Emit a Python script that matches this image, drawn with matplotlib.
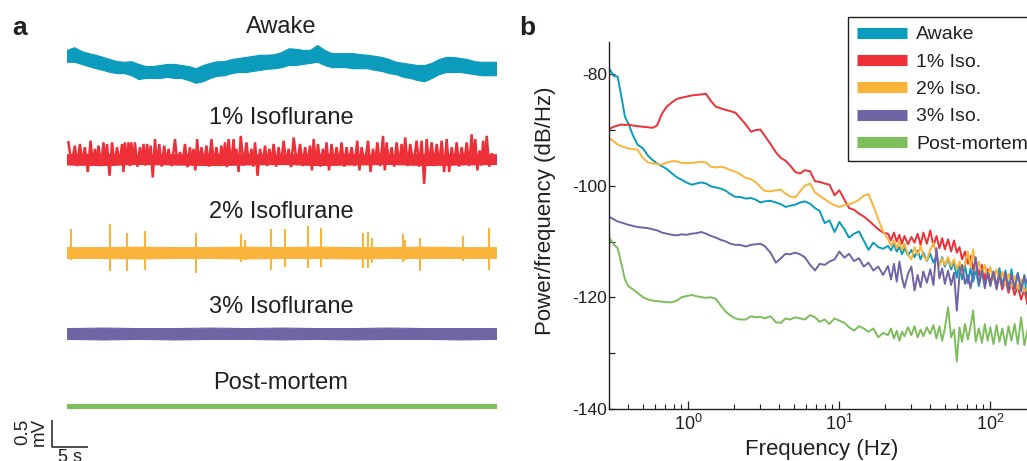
import numpy as np
import matplotlib
matplotlib.use('Agg')
import matplotlib.pyplot as plt
from matplotlib.lines import Line2D

plt.rcParams['font.family'] = ['Liberation Sans', 'DejaVu Sans']
plt.rcParams['mathtext.fontset'] = 'custom'
plt.rcParams['mathtext.rm'] = 'Liberation Sans'
plt.rcParams['mathtext.it'] = 'Liberation Sans:italic'

# ---------------- colours / labels ----------------
C_AWAKE, C_ISO1, C_ISO2, C_ISO3, C_POST = '#0a9bbd', '#ed2f37', '#fab43b', '#7064a4', '#7dbd5c'
TXT = '#231f20'
trace_titles = ['Awake', '1% Isoflurane', '2% Isoflurane', '3% Isoflurane', 'Post-mortem']
legend_labels = ['Awake', '1% Iso.', '2% Iso.', '3% Iso.', 'Post-mortem']

# ---------------- panel a data (mV, relative to each trace's baseline) ----------------
awake_t = np.arange(0, 61)  # s
awake_upper = [0.28, 0.33, 0.26, 0.22, 0.19, 0.15, 0.11, 0.07, 0.06, 0.07,
               0.02, -0.02, -0.02, 0.00, 0.02, 0.02, 0.00, -0.02, -0.06, 0.00,
               0.04, 0.07, 0.07, 0.11, 0.13, 0.15, 0.17, 0.19, 0.19, 0.20,
               0.24, 0.31, 0.30, 0.28, 0.28, 0.37, 0.28, 0.22, 0.22, 0.22,
               0.22, 0.20, 0.19, 0.17, 0.15, 0.11, 0.06, 0.04, 0.02, 0.00,
               0.00, 0.04, 0.11, 0.15, 0.15, 0.13, 0.11, 0.07, 0.06, 0.06, 0.06]
awake_lower = [0.06, 0.06, 0.02, -0.02, -0.06, -0.09, -0.13, -0.15, -0.15, -0.19,
               -0.26, -0.24, -0.24, -0.24, -0.22, -0.24, -0.24, -0.28, -0.33, -0.30,
               -0.24, -0.20, -0.19, -0.15, -0.13, -0.13, -0.11, -0.09, -0.07, -0.06,
               -0.04, 0.00, 0.00, 0.02, 0.04, 0.06, 0.00, -0.04, -0.04, -0.04,
               -0.06, -0.06, -0.06, -0.09, -0.11, -0.15, -0.17, -0.22, -0.24, -0.28,
               -0.30, -0.24, -0.17, -0.13, -0.13, -0.13, -0.15, -0.17, -0.19, -0.19, -0.19]

band_t = np.arange(0, 61, 5)  # s
iso1_upper = [0.07, 0.08, 0.06, 0.07, 0.08, 0.07, 0.06, 0.08, 0.07, 0.06, 0.08, 0.07, 0.07]
iso1_lower = [-0.12, -0.13, -0.11, -0.12, -0.13, -0.12, -0.11, -0.13, -0.12, -0.11, -0.13, -0.12, -0.11]
iso1_peak_t = [0.2, 1.1, 1.8, 2.5, 3.3, 3.9, 4.4, 5.1, 5.6, 6.3, 7.0, 7.7, 8.1, 8.6, 9.0, 9.5,
               10.2, 10.7, 11.2, 11.7, 12.3, 12.9, 13.6, 14.2,
               15.1, 15.8, 16.5, 17.2, 17.7, 18.2, 18.8, 19.5,
               20.2, 20.9, 21.6, 22.1, 22.6, 23.3, 23.7, 24.3,
               25.1, 25.8, 26.3, 27.0, 27.7, 28.3, 28.9, 29.6,
               30.3, 31.0, 31.7, 32.6, 33.3, 34.0, 34.5, 35.1,
               35.8, 36.3, 37.0, 37.7, 38.4, 39.1, 39.8, 40.6,
               41.2, 42.1, 42.8, 43.4, 44.2, 44.7, 45.4, 46.1,
               46.8, 47.3, 48.0, 48.9, 49.6, 50.3, 51.0, 51.7,
               52.4, 53.1, 53.8, 54.5, 55.2, 55.9, 56.6, 57.1,
               57.7, 58.2, 58.7, 59.4]
iso1_peak_v = [0.29, 0.23, 0.26, 0.20, 0.32, 0.17, 0.23, 0.29, 0.26, 0.29, 0.20, 0.26, 0.29, 0.29, 0.29, 0.29,
               0.20, 0.26, 0.26, 0.23, 0.35, 0.26, 0.23, 0.17,
               0.35, 0.11, 0.26, 0.20, 0.17, 0.35, 0.20, 0.23,
               0.35, 0.20, 0.23, 0.29, 0.35, 0.35, 0.17, 0.41,
               0.29, 0.17, 0.29, 0.17, 0.23, 0.17, 0.26, 0.20,
               0.32, 0.17, 0.38, 0.26, 0.20, 0.23, 0.35, 0.26,
               0.17, 0.29, 0.26, 0.20, 0.29, 0.20, 0.20, 0.32,
               0.20, 0.32, 0.17, 0.29, 0.41, 0.29, 0.20, 0.29,
               0.26, 0.38, 0.26, 0.32, 0.32, 0.35, 0.29, 0.26,
               0.32, 0.35, 0.20, 0.29, 0.20, 0.29, 0.44, 0.35,
               0.14, 0.32, 0.41, 0.07]
iso1_trough_t = [0.65, 1.45, 2.15, 2.9, 3.6, 4.15, 4.75, 5.35, 5.95, 6.65,
                 7.35, 7.9, 8.35, 8.8, 9.25, 9.85, 10.45, 10.95, 11.45, 12.0,
                 12.6, 13.25, 13.9, 14.65, 15.45, 16.15, 16.85, 17.45, 17.95, 18.5,
                 19.15, 19.85, 20.55, 21.25, 21.85, 22.35, 22.95, 23.5, 24.0, 24.7,
                 25.45, 26.05, 26.65, 27.35, 28.0, 28.6, 29.25, 29.95, 30.65, 31.35,
                 32.15, 32.95, 33.65, 34.25, 34.8, 35.45, 36.05, 36.65, 37.35, 38.05,
                 38.75, 39.45, 40.2, 40.9, 41.65, 42.45, 43.1, 43.8, 44.45, 45.05,
                 45.75, 46.45, 47.05, 47.65, 48.45, 49.25, 49.95, 50.65, 51.35, 52.05,
                 52.75, 53.45, 54.15, 54.85, 55.55, 56.25, 56.85, 57.4, 57.95, 58.45, 59.05]
iso1_trough_v = [-0.12, -0.15, -0.10, -0.26, -0.13, -0.09, -0.15, -0.12, -0.33, -0.14,
                 -0.11, -0.26, -0.12, -0.15, -0.10, -0.16, -0.12, -0.14, -0.09, -0.36,
                 -0.13, -0.16, -0.11, -0.15, -0.12, -0.10, -0.17, -0.12, -0.23, -0.14,
                 -0.11, -0.16, -0.12, -0.15, -0.10, -0.17, -0.13, -0.11, -0.26, -0.14,
                 -0.12, -0.16, -0.33, -0.12, -0.15, -0.10, -0.16, -0.13, -0.11, -0.17,
                 -0.12, -0.15, -0.10, -0.23, -0.13, -0.16, -0.11, -0.23, -0.14, -0.12,
                 -0.16, -0.10, -0.15, -0.23, -0.13, -0.26, -0.12, -0.15, -0.23, -0.11,
                 -0.16, -0.13, -0.10, -0.15, -0.12, -0.16, -0.48, -0.13, -0.15, -0.11,
                 -0.26, -0.26, -0.12, -0.16, -0.11, -0.15, -0.12, -0.23, -0.14, -0.10, -0.16]

iso2_upper = [0.09, 0.09, 0.10, 0.09, 0.09, 0.10, 0.09, 0.10, 0.09, 0.09, 0.10, 0.09, 0.09]
iso2_lower = [-0.11, -0.11, -0.12, -0.11, -0.11, -0.12, -0.11, -0.11, -0.12, -0.11, -0.11, -0.11, -0.11]
iso2_spike_t = [0.5, 6.0, 8.4, 10.9, 18.0, 24.4, 24.9, 28.5, 30.5, 33.7, 35.5, 41.4, 42.1, 42.7, 47.0, 47.3, 49.4, 55.4, 59.0]
iso2_spike_up = [0.42, 0.52, 0.35, 0.39, 0.36, 0.33, 0.22, 0.43, 0.43, 0.49, 0.45, 0.36, 0.37, 0.26, 0.33, 0.22, 0.25, 0.30, 0.44]
iso2_spike_dn = [-0.15, -0.36, -0.36, -0.33, -0.38, -0.18, -0.15, -0.33, -0.27, -0.30, -0.27, -0.30, -0.30, -0.20, -0.18, -0.15, -0.36, -0.17, -0.33]

iso3_upper = [0.10, 0.11, 0.10, 0.10, 0.11, 0.10, 0.11, 0.10, 0.10, 0.11, 0.10, 0.10, 0.10]
iso3_lower = [-0.10, -0.11, -0.10, -0.11, -0.10, -0.10, -0.11, -0.10, -0.11, -0.10, -0.10, -0.11, -0.10]

post_upper = [0.03, 0.03, 0.03, 0.03, 0.03, 0.03, 0.03, 0.03, 0.03, 0.03, 0.03, 0.03, 0.03]
post_lower = [-0.03, -0.03, -0.03, -0.03, -0.03, -0.03, -0.03, -0.03, -0.03, -0.03, -0.03, -0.03, -0.03]

scalebar_mV = 0.5
scalebar_s = 5

# ---------------- panel b data (dB/Hz) ----------------
freqs = [0.30, 0.32, 0.34, 0.36, 0.38, 0.40, 0.43, 0.46, 0.50, 0.54, 0.58, 0.62,
         0.67, 0.72, 0.78, 0.84, 0.90, 0.97, 1.05, 1.13, 1.22, 1.31, 1.41, 1.52,
         1.64, 1.77, 1.9, 2.05, 2.2, 2.4, 2.6, 2.8, 3.0, 3.2, 3.5, 3.8,
         4.1, 4.4, 4.7, 5.1, 5.5, 5.9, 6.4, 6.9, 7.4, 8.0, 8.6, 9.3,
         10.0, 10.8, 11.6, 12.5, 13.5, 14.5, 15.6, 16.8, 18.1, 19.5,
         21, 22, 23, 24, 25, 26, 27, 28.5, 30, 31.5, 33, 34.5,
         36, 38, 40, 42, 44, 46, 48, 50, 52.5, 55, 57.5, 60,
         62.5, 65, 68, 71, 74, 77, 80, 84, 88, 92, 96, 100,
         105, 110, 115, 120, 126, 132, 138, 145, 152, 160, 168, 176]

psd_awake = [-79.0, -80.3, -80.4, -84.0, -87.6, -88.8, -91.0, -92.6, -93.3, -94.6, -95.4, -96.0,
             -96.5, -97.0, -97.8, -98.5, -98.9, -99.4, -99.8, -99.6, -99.4, -99.6, -100.1, -100.3,
             -100.5, -100.9, -101.5, -102.0, -102.0, -102.3, -102.2, -102.5, -103.0, -102.8, -102.7, -103.0,
             -103.3, -103.8, -103.6, -103.4, -103.0, -102.8, -103.2, -104.0, -104.5, -106.7, -106.2, -108.3,
             -106.5, -107.8, -109.3, -108.6, -108.2, -109.8, -111.5, -110.2, -111.0, -111.3,
             -110.8, -111.6, -110.5, -111.8, -111.0, -112.3, -111.2, -112.5, -111.5, -112.8, -111.6, -113.2,
             -112.0, -113.5, -112.2, -113.8, -112.6, -114.2, -112.8, -114.5, -113.0, -115.0, -113.5, -116.5,
             -114.0, -116.8, -114.2, -117.5, -114.8, -117.2, -115.0, -118.0, -115.2, -117.6, -115.0, -117.8,
             -115.4, -118.2, -114.8, -118.0, -115.2, -118.4, -115.0, -118.6, -115.6, -119.0, -116.0, -121.0]
psd_iso1 = [-89.8, -89.4, -89.2, -89.0, -89.1, -89.0, -89.2, -89.3, -89.4, -89.5, -89.6, -89.2,
            -87.0, -85.8, -85.0, -84.4, -84.2, -84.0, -83.8, -83.7, -83.6, -83.5, -84.8, -85.8,
            -86.1, -86.4, -86.6, -86.9, -87.8, -89.0, -90.3, -90.0, -89.9, -91.0, -92.5, -94.0,
            -95.0, -95.5, -96.3, -97.5, -97.8, -97.2, -97.4, -99.2, -99.3, -99.6, -99.8, -101.7,
            -100.8, -102.5, -104.0, -104.3, -105.0, -105.5, -106.2, -107.0, -107.8, -108.4,
            -108.6, -109.8, -108.4, -110.0, -108.8, -110.4, -109.0, -110.5, -109.2, -110.2, -108.6, -110.6,
            -108.4, -110.4, -108.0, -110.8, -109.0, -111.2, -109.4, -111.4, -109.6, -111.8, -109.8, -112.0,
            -111.0, -113.2, -111.8, -114.0, -112.6, -115.0, -113.4, -116.0, -114.2, -116.8, -115.0, -117.4,
            -115.6, -118.0, -116.2, -118.6, -116.8, -119.2, -117.4, -119.6, -118.0, -120.4, -118.6, -121.2]
psd_iso2 = [-91.5, -92.0, -92.6, -92.9, -93.1, -93.3, -93.4, -93.5, -95.0, -95.8, -96.0, -96.1,
            -96.2, -95.8, -95.6, -95.6, -95.9, -95.9, -95.9, -95.8, -95.7, -95.8, -96.6, -96.7,
            -96.6, -96.8, -97.2, -97.5, -97.9, -98.6, -98.8, -99.4, -100.2, -100.9, -101.0, -100.8,
            -100.7, -101.4, -101.9, -102.1, -101.0, -100.0, -99.6, -101.2, -101.8, -102.4, -103.0, -103.5,
            -103.8, -103.5, -103.3, -103.0, -102.5, -101.8, -101.5, -103.6, -106.0, -108.2,
            -109.6, -110.8, -109.8, -111.2, -110.0, -111.6, -110.4, -112.4, -113.2, -111.0, -112.4, -110.8,
            -112.6, -113.4, -111.5, -110.2, -112.5, -114.4, -113.0, -114.2, -112.8, -114.4, -113.2, -115.0,
            -113.6, -115.6, -113.8, -111.8, -114.6, -111.4, -115.2, -113.6, -116.0, -114.2, -116.4, -114.6,
            -116.8, -115.0, -117.2, -115.4, -117.8, -115.8, -118.2, -116.2, -118.6, -116.8, -119.0, -118.4]
psd_iso3 = [-105.6, -106.0, -106.4, -106.6, -106.8, -107.0, -107.2, -107.4, -107.5, -107.6, -107.8, -108.0,
            -108.4, -108.6, -108.8, -108.9, -108.7, -108.8, -108.6, -108.5, -108.3, -108.6, -109.0, -109.3,
            -109.7, -110.0, -110.4, -110.6, -110.6, -110.9, -110.6, -110.5, -110.4, -110.8, -112.0, -113.8,
            -113.0, -112.2, -112.3, -112.0, -112.3, -112.8, -114.2, -115.2, -114.0, -114.2, -113.6, -113.2,
            -111.8, -112.9, -112.2, -113.5, -113.0, -114.5, -113.8, -115.2, -114.5, -116.0,
            -114.4, -116.8, -114.0, -117.2, -113.6, -116.5, -118.3, -115.8, -114.5, -118.8, -116.0, -118.2,
            -115.4, -117.4, -115.0, -117.8, -111.2, -116.6, -114.8, -117.6, -115.2, -117.8, -115.6, -122.4,
            -116.0, -114.2, -117.6, -116.0, -118.4, -115.6, -112.8, -117.6, -115.2, -118.4, -115.6, -118.0,
            -115.4, -118.6, -115.8, -118.2, -115.6, -118.8, -116.0, -118.4, -115.8, -118.6, -116.2, -117.6]
psd_post = [-109.4, -110.5, -111.2, -114.0, -116.8, -118.0, -118.6, -119.2, -120.0, -120.4, -120.6, -120.7,
            -120.8, -120.9, -120.9, -120.6, -120.0, -119.8, -119.6, -119.8, -120.0, -120.1, -120.0, -120.3,
            -121.5, -122.6, -123.3, -123.8, -124.0, -124.0, -123.4, -123.6, -123.5, -123.8, -123.4, -124.5,
            -124.6, -123.8, -124.0, -123.6, -123.8, -124.0, -123.2, -123.6, -124.4, -124.0, -124.8, -123.8,
            -124.2, -124.6, -125.4, -126.0, -125.2, -125.6, -126.2, -125.6, -127.2, -126.4,
            -126.8, -125.6, -127.4, -126.0, -127.8, -126.2, -127.0, -125.4, -126.8, -125.2, -127.2, -125.8,
            -127.0, -125.4, -126.6, -125.0, -127.4, -125.2, -127.8, -125.6, -121.8, -127.2, -125.8, -131.5,
            -125.4, -128.0, -124.8, -127.6, -125.2, -122.4, -128.0, -125.6, -128.2, -124.8, -127.8, -125.4,
            -128.4, -125.0, -128.0, -125.6, -128.6, -125.2, -127.8, -124.8, -128.4, -123.6, -128.6, -126.0]

ytick_vals = [-140, -130, -120, -110, -100, -90, -80]
ytick_labels = ['-140', '', '-120', '', '-100', '', '-80']
xtick_vals = [1, 10, 100]
xtick_labels = [r'$10^0$', r'$10^1$', r'$10^2$']

# ---------------- layout ----------------
W, H = 1027, 461
fig = plt.figure(figsize=(W / 100, H / 100), dpi=100)


def fx(px):
    return px / W


def fy(py):
    return 1 - py / H


PX_PER_MV = 54.0
ax_a = fig.add_axes([fx(67), 0, 429 / W, 1])
ax_a.set_xlim(0, 60)
ax_a.set_ylim(0, H / PX_PER_MV)
ax_a.axis('off')


def base(py):
    return (H - py) / PX_PER_MV


b_awake, b_iso1, b_iso2, b_iso3, b_post = base(65), base(158), base(252), base(333.5), base(406)

# Awake
ax_a.fill_between(awake_t, b_awake + np.array(awake_lower), b_awake + np.array(awake_upper),
                  color=C_AWAKE, lw=0.8, edgecolor=C_AWAKE)
# 1% : spike train drawn through its peaks and troughs in time order
ax_a.fill_between(band_t, b_iso1 + np.array(iso1_lower), b_iso1 + np.array(iso1_upper),
                  color=C_ISO1, lw=0.8, edgecolor=C_ISO1)
zz_t = np.concatenate([iso1_peak_t, iso1_trough_t])
zz_v = np.concatenate([iso1_peak_v, iso1_trough_v])
order = np.argsort(zz_t)
ax_a.plot(zz_t[order], b_iso1 + zz_v[order], color=C_ISO1, lw=1.8, solid_joinstyle='miter')
# 2%
ax_a.fill_between(band_t, b_iso2 + np.array(iso2_lower), b_iso2 + np.array(iso2_upper),
                  color=C_ISO2, lw=0.8, edgecolor=C_ISO2)
ax_a.vlines(iso2_spike_t, b_iso2 + np.array(iso2_spike_dn), b_iso2 + np.array(iso2_spike_up),
            color=C_ISO2, lw=1.5)
# 3%
ax_a.fill_between(band_t, b_iso3 + np.array(iso3_lower), b_iso3 + np.array(iso3_upper),
                  color=C_ISO3, lw=0.8, edgecolor=C_ISO3)
# post-mortem
ax_a.fill_between(band_t, b_post + np.array(post_lower), b_post + np.array(post_upper),
                  color=C_POST, lw=0.8, edgecolor=C_POST)

# scale bar
sb_x0 = -2.1
sb_y0 = base(447)
ax_a.plot([sb_x0, sb_x0, sb_x0 + scalebar_s], [sb_y0 + scalebar_mV, sb_y0, sb_y0],
          color=TXT, lw=1.1, clip_on=False, solid_capstyle='butt')
fig.text(fx(31), fy(432), '0.5\nmV', rotation=90, ha='center', va='center',
         fontsize=13.5, color=TXT, linespacing=0.95)
fig.text(fx(70), fy(449), f'{scalebar_s} s', ha='center', va='top', fontsize=13, color=TXT)

# titles of traces
title_baselines = [33, 124, 217.5, 313, 389]
for title, yb in zip(trace_titles, title_baselines):
    fig.text(fx(281), fy(yb), title, ha='center', va='baseline', fontsize=17, color=TXT)

# panel letters
fig.text(fx(12), fy(35), 'a', fontsize=19, fontweight='bold', color=TXT, va='baseline')
fig.text(fx(519), fy(35), 'b', fontsize=19, fontweight='bold', color=TXT, va='baseline')

# ---------------- panel b ----------------
ax_b = fig.add_axes([fx(609), fy(408.7), (W - 609) / W, (408.7 - 42) / H])
series = [(psd_awake, C_AWAKE), (psd_iso1, C_ISO1), (psd_iso2, C_ISO2),
          (psd_iso3, C_ISO3), (psd_post, C_POST)]
for vals, col in series:
    ax_b.plot(freqs, vals, color=col, lw=1.4)
ax_b.set_xscale('log')
ax_b.set_xlim(0.298, 175)
ax_b.set_ylim(-140, -74.2)
for s in ['top', 'right']:
    ax_b.spines[s].set_visible(False)
for s in ['left', 'bottom']:
    ax_b.spines[s].set_color(TXT)
    ax_b.spines[s].set_linewidth(1.0)
ax_b.set_yticks(ytick_vals)
ax_b.set_yticklabels(ytick_labels)
ax_b.set_xticks(xtick_vals)
ax_b.set_xticklabels(xtick_labels)
ax_b.tick_params(axis='y', direction='in', length=4.5, width=0.9, labelsize=12.5,
                 colors=TXT, pad=1.5)
ax_b.tick_params(axis='x', which='major', direction='in', length=6, width=0.9,
                 labelsize=13, colors=TXT, pad=4)
ax_b.tick_params(axis='x', which='minor', direction='in', length=3.5, width=0.8, colors=TXT)

fig.text(fx(822), fy(449), 'Frequency (Hz)', ha='center', va='center', fontsize=16, color=TXT)
fig.text(fx(545), fy(211), 'Power/frequency (dB/Hz)', rotation=90, ha='center', va='center',
         fontsize=16, color=TXT)

handles = [Line2D([], [], color=c, lw=8, solid_capstyle='butt') for c in
           [C_AWAKE, C_ISO1, C_ISO2, C_ISO3, C_POST]]
leg = ax_b.legend(handles, legend_labels, loc='upper left', bbox_to_anchor=(fx(848), fy(17)),
                  bbox_transform=fig.transFigure, borderaxespad=0, fontsize=14,
                  handlelength=2.6, handletextpad=0.45, labelspacing=0.5, borderpad=0.45,
                  fancybox=False, framealpha=1, edgecolor=TXT)
leg.get_frame().set_linewidth(1.0)
for t in leg.get_texts():
    t.set_color(TXT)

fig.savefig('out.png', dpi=100)
